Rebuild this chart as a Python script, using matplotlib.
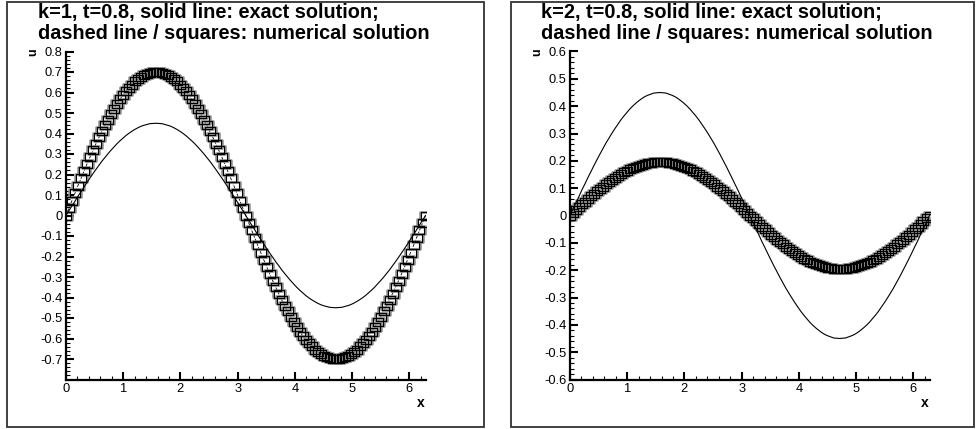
import matplotlib
matplotlib.use("Agg")
import matplotlib.pyplot as plt
from matplotlib.patches import Rectangle
from matplotlib.ticker import MultipleLocator

plt.rcParams['font.family'] = ['Liberation Sans', 'DejaVu Sans']

# ---------------- data ----------------
x_vals = [0, 0.052, 0.105, 0.157, 0.209, 0.262, 0.314, 0.367, 0.419, 0.471,
          0.524, 0.576, 0.628, 0.681, 0.733, 0.785, 0.838, 0.890, 0.942, 0.995,
          1.047, 1.100, 1.152, 1.204, 1.257, 1.309, 1.361, 1.414, 1.466, 1.518,
          1.571, 1.623, 1.676, 1.728, 1.780, 1.833, 1.885, 1.937, 1.990, 2.042,
          2.094, 2.147, 2.199, 2.251, 2.304, 2.356, 2.409, 2.461, 2.513, 2.566,
          2.618, 2.670, 2.723, 2.775, 2.827, 2.880, 2.932, 2.985, 3.037, 3.089,
          3.142, 3.194, 3.246, 3.299, 3.351, 3.403, 3.456, 3.508, 3.560, 3.613,
          3.665, 3.718, 3.770, 3.822, 3.875, 3.927, 3.979, 4.032, 4.084, 4.136,
          4.189, 4.241, 4.294, 4.346, 4.398, 4.451, 4.503, 4.555, 4.608, 4.660,
          4.712, 4.765, 4.817, 4.869, 4.922, 4.974, 5.027, 5.079, 5.131, 5.184,
          5.236, 5.288, 5.341, 5.393, 5.445, 5.498, 5.550, 5.603, 5.655, 5.707,
          5.760, 5.812, 5.864, 5.917, 5.969, 6.021, 6.074, 6.126, 6.178, 6.231,
          6.283]

exact_u = [0, 0.024, 0.047, 0.070, 0.094, 0.116, 0.139, 0.161, 0.183, 0.204,
           0.225, 0.245, 0.265, 0.283, 0.301, 0.318, 0.334, 0.350, 0.364, 0.377,
           0.390, 0.401, 0.411, 0.420, 0.428, 0.435, 0.440, 0.444, 0.448, 0.449,
           0.450,
           0.449, 0.448, 0.444, 0.440, 0.435, 0.428, 0.420, 0.411, 0.401, 0.390,
           0.377, 0.364, 0.350, 0.334, 0.318, 0.301, 0.283, 0.265, 0.245, 0.225,
           0.204, 0.183, 0.161, 0.139, 0.116, 0.094, 0.070, 0.047, 0.024, 0,
           -0.024, -0.047, -0.070, -0.094, -0.116, -0.139, -0.161, -0.183, -0.204, -0.225,
           -0.245, -0.265, -0.283, -0.301, -0.318, -0.334, -0.350, -0.364, -0.377, -0.390,
           -0.401, -0.411, -0.420, -0.428, -0.435, -0.440, -0.444, -0.448, -0.449, -0.450,
           -0.449, -0.448, -0.444, -0.440, -0.435, -0.428, -0.420, -0.411, -0.401, -0.390,
           -0.377, -0.364, -0.350, -0.334, -0.318, -0.301, -0.283, -0.265, -0.245, -0.225,
           -0.204, -0.183, -0.161, -0.139, -0.116, -0.094, -0.070, -0.047, -0.024, 0]

numerical_k1 = [0, 0.037, 0.073, 0.109, 0.146, 0.181, 0.216, 0.251, 0.285, 0.318,
                0.350, 0.381, 0.411, 0.441, 0.468, 0.495, 0.520, 0.544, 0.566, 0.587,
                0.606, 0.624, 0.639, 0.654, 0.666, 0.676, 0.685, 0.691, 0.696, 0.699,
                0.700,
                0.699, 0.696, 0.691, 0.685, 0.676, 0.666, 0.654, 0.639, 0.624, 0.606,
                0.587, 0.566, 0.544, 0.520, 0.495, 0.468, 0.441, 0.411, 0.381, 0.350,
                0.318, 0.285, 0.251, 0.216, 0.181, 0.146, 0.109, 0.073, 0.037, 0,
                -0.037, -0.073, -0.109, -0.146, -0.181, -0.216, -0.251, -0.285, -0.318, -0.350,
                -0.381, -0.411, -0.441, -0.468, -0.495, -0.520, -0.544, -0.566, -0.587, -0.606,
                -0.624, -0.639, -0.654, -0.666, -0.676, -0.685, -0.691, -0.696, -0.699, -0.700,
                -0.699, -0.696, -0.691, -0.685, -0.676, -0.666, -0.654, -0.639, -0.624, -0.606,
                -0.587, -0.566, -0.544, -0.520, -0.495, -0.468, -0.441, -0.411, -0.381, -0.350,
                -0.318, -0.285, -0.251, -0.216, -0.181, -0.146, -0.109, -0.073, -0.037, 0]

numerical_k2 = [0, 0.010, 0.020, 0.031, 0.041, 0.050, 0.060, 0.070, 0.079, 0.089,
                0.098, 0.106, 0.115, 0.123, 0.130, 0.138, 0.145, 0.152, 0.158, 0.164,
                0.169, 0.174, 0.178, 0.182, 0.185, 0.188, 0.191, 0.193, 0.194, 0.195,
                0.195,
                0.195, 0.194, 0.193, 0.191, 0.188, 0.185, 0.182, 0.178, 0.174, 0.169,
                0.164, 0.158, 0.152, 0.145, 0.138, 0.130, 0.123, 0.115, 0.106, 0.098,
                0.089, 0.079, 0.070, 0.060, 0.050, 0.041, 0.031, 0.020, 0.010, 0,
                -0.010, -0.020, -0.031, -0.041, -0.050, -0.060, -0.070, -0.079, -0.089, -0.098,
                -0.106, -0.115, -0.123, -0.130, -0.138, -0.145, -0.152, -0.158, -0.164, -0.169,
                -0.174, -0.178, -0.182, -0.185, -0.188, -0.191, -0.193, -0.194, -0.195, -0.195,
                -0.195, -0.194, -0.193, -0.191, -0.188, -0.185, -0.182, -0.178, -0.174, -0.169,
                -0.164, -0.158, -0.152, -0.145, -0.138, -0.130, -0.123, -0.115, -0.106, -0.098,
                -0.089, -0.079, -0.070, -0.060, -0.050, -0.041, -0.031, -0.020, -0.010, 0]

titles = [["k=1, t=0.8, solid line: exact solution;",
           "dashed line / squares: numerical solution"],
          ["k=2, t=0.8, solid line: exact solution;",
           "dashed line / squares: numerical solution"]]

x_ticks = [0, 1, 2, 3, 4, 5, 6]
x_ticklabels = ["0", "1", "2", "3", "4", "5", "6"]

y_ticks_k1 = [-0.7, -0.6, -0.5, -0.4, -0.3, -0.2, -0.1, 0, 0.1, 0.2, 0.3, 0.4, 0.5, 0.6, 0.7, 0.8]
y_ticklabels_k1 = ["-0.7", "-0.6", "-0.5", "-0.4", "-0.3", "-0.2", "-0.1", "0",
                   "0.1", "0.2", "0.3", "0.4", "0.5", "0.6", "0.7", "0.8"]
y_ticks_k2 = [-0.6, -0.5, -0.4, -0.3, -0.2, -0.1, 0, 0.1, 0.2, 0.3, 0.4, 0.5, 0.6]
y_ticklabels_k2 = ["-0.6", "-0.5", "-0.4", "-0.3", "-0.2", "-0.1", "0",
                   "0.1", "0.2", "0.3", "0.4", "0.5", "0.6"]

# ---------------- figure ----------------
W, H = 976, 429
fig = plt.figure(figsize=(W / 100, H / 100), dpi=100)

def fx(px):
    return px / W

def fy(py):
    return 1 - py / H

# panel frames
for (l, r) in [(7, 484), (511, 974)]:
    fig.patches.append(Rectangle((fx(l), fy(427)), fx(r - l), (427 - 2) / H,
                                 transform=fig.transFigure, fill=False,
                                 edgecolor='#333333', linewidth=1.3, zorder=0))

rect_marker = [(-1, -0.78), (1, -0.78), (1, 0.78), (-1, 0.78), (-1, -0.78)]

panels = [
    dict(left=66, right=425.5, num=numerical_k1, ylim=(-0.8, 0.8),
         yt=y_ticks_k1, ytl=y_ticklabels_k1, title=titles[0], tx=38, ux=33, xx=421),
    dict(left=570, right=929.5, num=numerical_k2, ylim=(-0.6, 0.6),
         yt=y_ticks_k2, ytl=y_ticklabels_k2, title=titles[1], tx=541, ux=537, xx=925),
]

top_px, bot_px = 51.5, 379.5
for p in panels:
    ax = fig.add_axes([fx(p['left']), fy(bot_px), fx(p['right'] - p['left']),
                       (bot_px - top_px) / H])
    ax.set_xlim(0, 6.283)
    ax.set_ylim(*p['ylim'])
    ax.plot(x_vals, exact_u, color='black', linewidth=0.8, zorder=3)
    ax.plot(x_vals, p['num'], color='black', linewidth=0.6, linestyle='--', zorder=2)
    ax.plot(x_vals, p['num'], linestyle='none', marker=rect_marker, markersize=8.0,
            markerfacecolor='none', markeredgecolor='#8c8c8c', markeredgewidth=1.8,
            zorder=2.5)
    ax.plot(x_vals, p['num'], linestyle='none', marker=rect_marker, markersize=7.0,
            markerfacecolor='none', markeredgecolor='black', markeredgewidth=0.8,
            zorder=4)
    for s in ['top', 'right']:
        ax.spines[s].set_visible(False)
    for s in ['left', 'bottom']:
        ax.spines[s].set_linewidth(1.6)
    ax.set_xticks(x_ticks)
    ax.set_xticklabels(x_ticklabels)
    ax.set_yticks(p['yt'])
    ax.set_yticklabels(p['ytl'])
    ax.xaxis.set_minor_locator(MultipleLocator(0.2))
    ax.yaxis.set_minor_locator(MultipleLocator(0.02))
    ax.tick_params(which='major', direction='in', length=5.5, width=1.5,
                   labelsize=9.3, pad=2.5, colors='black')
    ax.tick_params(which='minor', direction='in', length=3, width=0.8)
    ax.tick_params(axis='x', which='major', pad=2.5)
    ax.patch.set_alpha(0)
    fig.text(fx(p['tx']), fy(18), p['title'][0], fontsize=14.3, fontweight='bold',
             ha='left', va='baseline')
    fig.text(fx(p['tx']), fy(39), p['title'][1], fontsize=14.3, fontweight='bold',
             ha='left', va='baseline')
    fig.text(fx(p['ux']), fy(52), 'u', fontsize=9, fontweight='bold', rotation=90,
             ha='center', va='center')
    fig.text(fx(p['xx']), fy(403), 'x', fontsize=10, fontweight='bold',
             ha='center', va='center')

fig.savefig('out.png', dpi=100)
